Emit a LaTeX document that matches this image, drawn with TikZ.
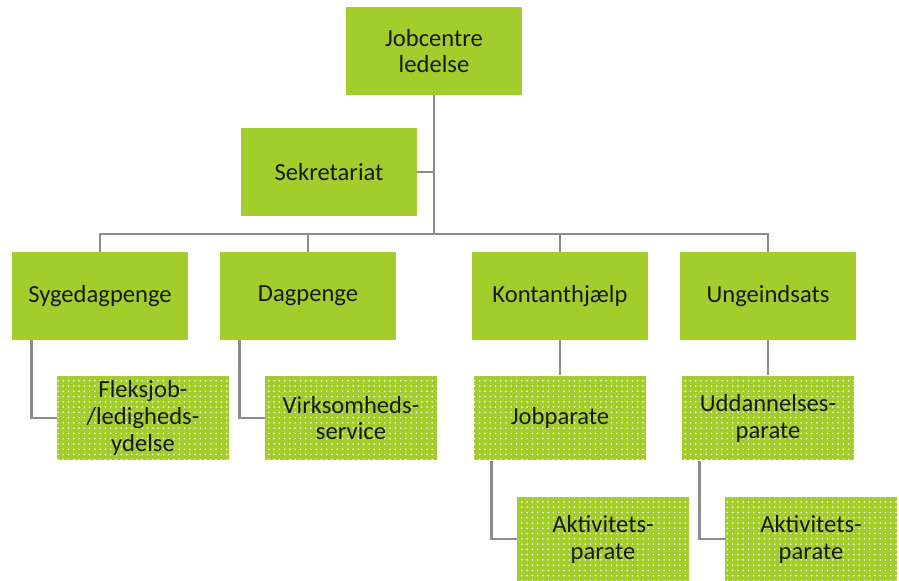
\documentclass[tikz,border=0pt]{standalone}
\usepackage{fontspec}
\setmainfont{Carlito}
\usetikzlibrary{positioning,patterns}

\definecolor{boxgreen}{RGB}{163,205,43}
\definecolor{linegray}{RGB}{140,140,140}
\definecolor{textdark}{RGB}{25,25,25}

\tikzset{
	unit/.style={draw=none, fill=boxgreen, minimum width=3.52cm, minimum height=1.76cm,
		inner sep=0pt, align=center, text=textdark, font=\fontsize{14}{15.3}\selectfont},
	subunit/.style={unit, minimum width=3.44cm, minimum height=1.7cm,
		postaction={pattern=dots, pattern color=white}},
	conn/.style={draw=linegray, line width=1.6pt}
}

\begin{document}
\begin{tikzpicture}[x=0.02cm, y=-0.02cm]
	\useasboundingbox (0,0) rectangle (899,581);

	\node[unit] (leder) at (434,51) {Jobcentre\\ledelse};
	\node[unit] (sek) at (329,172) {Sekretariat};
	\node[unit] (syg) at (100,296) {Sygedagpenge};
	\node[unit] (dag) at (308,296) {Dagpenge};
	\node[unit] (kont) at (560,296) {Kontanthjælp};
	\node[unit] (unge) at (768,296) {Ungeindsats};

	\node[subunit] (fleks) at (143,418) {Fleksjob-\\/ledigheds-\\ydelse};
	\node[subunit] (virk) at (351,418) {Virksomheds-\\service};
	\node[subunit] (jobp) at (560,418) {Jobparate};
	\node[subunit] (udd) at (768,418) {Uddannelses-\\parate};
	\node[subunit] (akt1) at (603,539) {Aktivitets-\\parate};
	\node[subunit] (akt2) at (811,539) {Aktivitets-\\parate};

	\coordinate (bus) at (434,234);

	% top level
	\path [conn]
	(leder) -- (bus)
	(sek.east) -- (sek.east -| bus)
	(bus) -| (syg.north)
	(bus) -| (dag.north)
	(bus) -| (kont.north)
	(bus) -| (unge.north);

	% sub units
	\path [conn]
	(syg.south west) ++(20,0) |- (fleks.west)
	(dag.south west) ++(20,0) |- (virk.west)
	(kont) -- (jobp)
	(unge) -- (udd)
	(jobp.south west) ++(18,0) |- (akt1.west)
	(udd.south west) ++(18,0) |- (akt2.west);
\end{tikzpicture}
\end{document}
